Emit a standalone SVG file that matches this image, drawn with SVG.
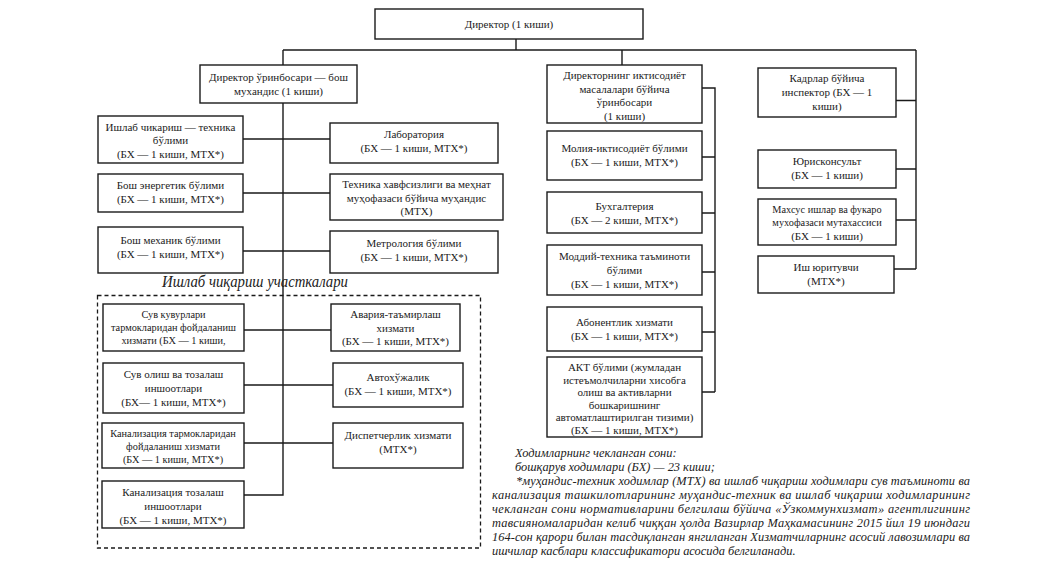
<svg xmlns="http://www.w3.org/2000/svg" width="1039" height="586" viewBox="0 0 1039 586">
<style>
.b{fill:#fff;stroke:#1a1a1a;stroke-width:1.4}
.t{font-family:"Liberation Serif","Times New Roman",serif;font-size:11px;fill:#222;text-anchor:middle}
.s{font-size:10.3px}
.c{fill:none;stroke:#1a1a1a;stroke-width:1.4}
.n{font-family:"Liberation Serif","Times New Roman",serif;font-size:12.4px;font-style:italic;fill:#222}
</style>
<rect width="1039" height="586" fill="#fff"/>
<g id="connectors" class="c">
<path d="M516 39V50M283 50H916M283 50V65M622 50V65M916 50V269"/>
<path d="M896 100.5H916M896 169H916M896 220H916M894 269H916"/>
<path d="M702 88H715V392M702 157H715M702 213H715M702 272H715M702 332H715M702 392H715"/>
<path d="M283 103V495H244"/>
<path d="M243 139H330M243 193H330M243 251H330M244 330H331M244 385H333M244 443H333"/>
</g>
<rect id="area" x="97.5" y="295.5" width="383" height="252.5" fill="none" stroke="#1a1a1a" stroke-width="1.3" stroke-dasharray="4,3"/>
<text class="n" x="162" y="287" textLength="186" lengthAdjust="spacingAndGlyphs" style="font-size:16px">Ишлаб чиқариш участкалари</text>
<g id="director"><rect class="b" x="375" y="9" width="268" height="30"/><text class="t" x="509" y="28">Директор (1 киши)</text></g>
<g id="deputy"><rect class="b" x="200" y="65" width="157" height="38"/><text class="t" x="278.5" y="81">Директор ўринбосари — бош</text><text class="t" x="278.5" y="95">мухандис (1 киши)</text></g>
<g id="econ"><rect class="b" x="547" y="65" width="155" height="58"/><text class="t" x="624.5" y="79">Директорнинг иктисодиёт</text><text class="t" x="624.5" y="92.5">масалалари бўйича</text><text class="t" x="624.5" y="106">ўринбосари</text><text class="t" x="624.5" y="119.5">(1 киши)</text></g>
<g id="kadr"><rect class="b" x="758" y="68" width="138" height="49"/><text class="t" x="827" y="82">Кадрлар бўйича</text><text class="t" x="827" y="96">инспектор (БХ —  1</text><text class="t" x="827" y="110">киши)</text></g>
<g id="yurist"><rect class="b" x="758" y="150" width="138" height="38"/><text class="t" x="827" y="165">Юрисконсульт</text><text class="t" x="827" y="179">(БХ — 1 киши)</text></g>
<g id="maxsus"><rect class="b" x="758" y="199" width="138" height="46"/><text class="t s" x="827" y="213">Махсус ишлар ва фукаро</text><text class="t s" x="827" y="226">мухофазаси мутахассиси</text><text class="t" x="827" y="240">(БХ — 1 киши)</text></g>
<g id="ish"><rect class="b" x="758" y="256" width="136" height="37"/><text class="t" x="826" y="271">Иш юритувчи</text><text class="t" x="826" y="285">(МТХ*)</text></g>
<g id="moliya"><rect class="b" x="547" y="131" width="155" height="49"/><text class="t" x="624.5" y="152">Молия-иктисодиёт бўлими</text><text class="t" x="624.5" y="166">(БХ — 1 киши, МТХ*)</text></g>
<g id="buxg"><rect class="b" x="547" y="192" width="155" height="41"/><text class="t" x="624.5" y="210">Бухгалтерия</text><text class="t" x="624.5" y="224">(БХ — 2 киши, МТХ*)</text></g>
<g id="moddiy"><rect class="b" x="547" y="245" width="155" height="50"/><text class="t" x="624.5" y="260">Моддий-техника таъминоти</text><text class="t" x="624.5" y="274">бўлими</text><text class="t" x="624.5" y="288">(БХ — 1 киши, МТХ*)</text></g>
<g id="abonent"><rect class="b" x="547" y="307" width="155" height="44"/><text class="t" x="624.5" y="326">Абонентлик хизмати</text><text class="t" x="624.5" y="340">(БХ — 1 киши, МТХ*)</text></g>
<g id="akt"><rect class="b" x="547" y="357" width="155" height="80"/><text class="t" x="624.5" y="371">АКТ бўлими (жумладан</text><text class="t" x="624.5" y="383.5">истеъмолчиларни хисобга</text><text class="t" x="624.5" y="396">олиш ва активларни</text><text class="t" x="624.5" y="408.5">бошкаришнинг</text><text class="t" x="624.5" y="421">автоматлаштирилган тизими)</text><text class="t" x="624.5" y="433.5">(БХ — 1 киши, МТХ*)</text></g>
<g id="ishlab"><rect class="b" x="98" y="116" width="145" height="47"/><text class="t" x="170.5" y="131">Ишлаб чикариш — техника</text><text class="t" x="170.5" y="144">бўлими</text><text class="t" x="170.5" y="158">(БХ — 1 киши, МТХ*)</text></g>
<g id="lab"><rect class="b" x="330" y="123" width="168" height="40"/><text class="t" x="414" y="138">Лаборатория</text><text class="t" x="414" y="152">(БХ — 1 киши, МТХ*)</text></g>
<g id="energ"><rect class="b" x="98" y="174" width="145" height="38"/><text class="t" x="170.5" y="189">Бош энергетик бўлими</text><text class="t" x="170.5" y="203">(БХ — 1 киши, МТХ*)</text></g>
<g id="texnika"><rect class="b" x="330" y="174" width="173" height="46"/><text class="t" x="416.5" y="188">Техника хавфсизлиги ва меҳнат</text><text class="t" x="416.5" y="201.5">муҳофазаси бўйича муҳандис</text><text class="t" x="416.5" y="215">(МТХ)</text></g>
<g id="mexanik"><rect class="b" x="98" y="227" width="145" height="46"/><text class="t" x="170.5" y="244">Бош механик бўлими</text><text class="t" x="170.5" y="258">(БХ — 1 киши, МТХ*)</text></g>
<g id="metrol"><rect class="b" x="330" y="231" width="168" height="42"/><text class="t" x="414" y="247">Метрология бўлими</text><text class="t" x="414" y="261">(БХ — 1 киши, МТХ*)</text></g>
<g id="suvkuv"><rect class="b" x="103" y="304" width="141" height="47"/><text class="t s" x="173.5" y="318">Сув кувурлари</text><text class="t s" x="173.5" y="331">тармокларидан фойдаланиш</text><text class="t s" x="173.5" y="344">хизмати (БХ — 1 киши,</text></g>
<g id="avariya"><rect class="b" x="331" y="304" width="129" height="47"/><text class="t" x="395.5" y="318">Авария-таъмирлаш</text><text class="t" x="395.5" y="331.5">хизмати</text><text class="t" x="395.5" y="345">(БХ — 1 киши, МТХ*)</text></g>
<g id="suvolish"><rect class="b" x="103" y="363" width="141" height="50"/><text class="t" x="173.5" y="378">Сув олиш ва тозалаш</text><text class="t" x="173.5" y="392">иншоотлари</text><text class="t" x="173.5" y="406">(БХ— 1 киши, МТХ*)</text></g>
<g id="avto"><rect class="b" x="333" y="363" width="130" height="44"/><text class="t" x="398" y="381">Автохўжалик</text><text class="t" x="398" y="395">(БХ — 1 киши, МТХ*)</text></g>
<g id="kanaltarm"><rect class="b" x="102" y="423" width="142" height="45"/><text class="t s" x="173" y="437">Канализация тармокларидан</text><text class="t s" x="173" y="450">фойдаланиш хизмати</text><text class="t s" x="173" y="463">(БХ — 1 киши, МТХ*)</text></g>
<g id="dispetch"><rect class="b" x="333" y="423" width="130" height="45"/><text class="t" x="398" y="439">Диспетчерлик хизмати</text><text class="t" x="398" y="453">(МТХ*)</text></g>
<g id="kanaltoz"><rect class="b" x="102" y="481" width="142" height="47"/><text class="t" x="173" y="496">Канализация тозалаш</text><text class="t" x="173" y="510">иншоотлари</text><text class="t" x="173" y="524">(БХ — 1 киши, МТХ*)</text></g>
<g id="notes">
<text class="n" x="515" y="457">Ходимларнинг чекланган сони:</text>
<text class="n" x="515" y="471">бошқарув ходимлари (БХ) — 23 киши;</text>
<text class="n" x="516" y="485" textLength="454" lengthAdjust="spacing">*муҳандис-техник ходимлар (МТХ) ва ишлаб чиқариш ходимлари сув таъминоти ва</text>
<text class="n" x="492" y="499" textLength="478" lengthAdjust="spacing">канализация ташкилотларининг муҳандис-техник ва ишлаб чиқариш ходимларининг</text>
<text class="n" x="492" y="513" textLength="478" lengthAdjust="spacing">чекланган сони нормативларини белгилаш бўйича «Ўзкоммунхизмат» агентлигининг</text>
<text class="n" x="492" y="527" textLength="478" lengthAdjust="spacing">тавсияномаларидан келиб чиққан ҳолда Вазирлар Маҳкамасининг 2015 йил 19 июндаги</text>
<text class="n" x="492" y="541" textLength="478" lengthAdjust="spacing">164-сон қарори билан тасдиқланган янгиланган Хизматчиларнинг асосий лавозимлари ва</text>
<text class="n" x="492" y="555">ишчилар касблари классификатори асосида белгиланади.</text>
</g>
</svg>
